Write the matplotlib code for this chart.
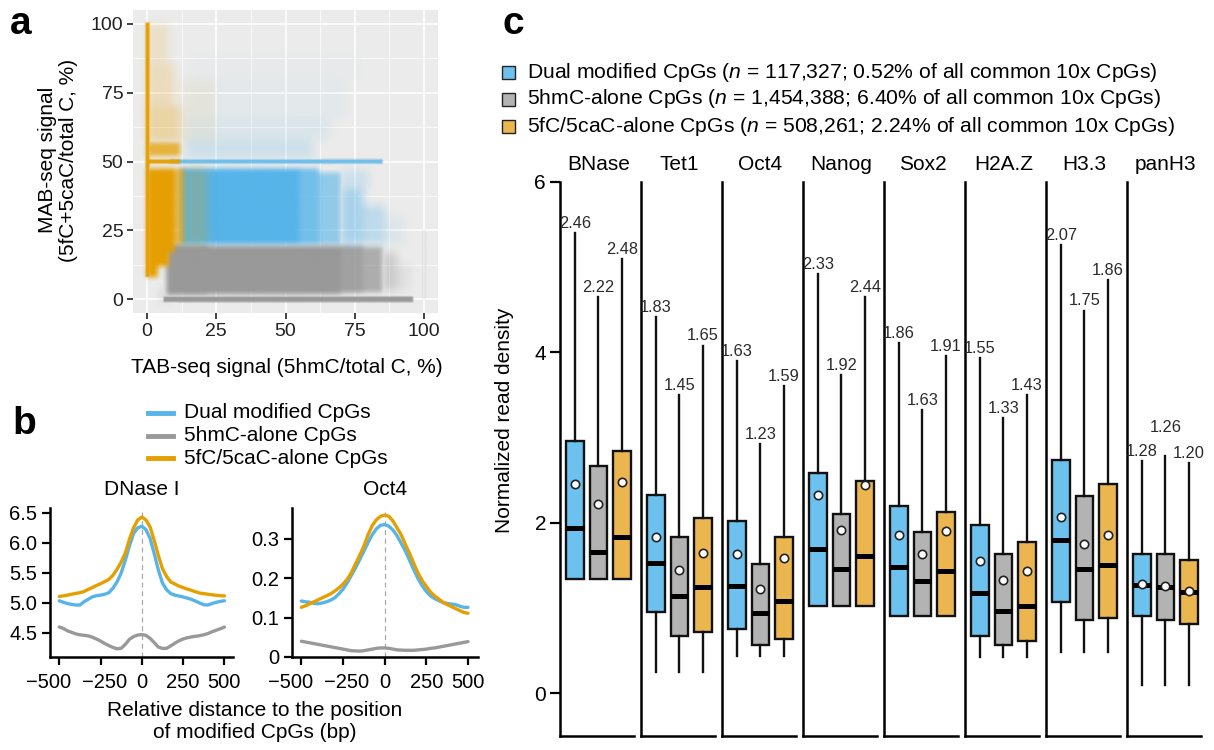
import numpy as np
import matplotlib
matplotlib.use("Agg")
import matplotlib.pyplot as plt
from matplotlib.colors import to_rgb
from matplotlib.lines import Line2D
from matplotlib.patches import Rectangle

plt.rcParams['font.family'] = ['Liberation Sans', 'DejaVu Sans']
plt.rcParams['mathtext.fontset'] = 'custom'
plt.rcParams['mathtext.it'] = 'Liberation Sans:italic'
plt.rcParams['mathtext.rm'] = 'Liberation Sans'

# ---------------------------------------------------------------- data
group_names = ['Dual modified CpGs', '5hmC-alone CpGs', '5fC/5caC-alone CpGs']
group_counts = ['117,327', '1,454,388', '508,261']
group_pct = ['0.52%', '6.40%', '2.24%']

# (a) point clouds: TAB range, MAB range and point density of each patch
hmc_cloud = [
    (5, 8, -1.0, 4, 0.25),
    (7, 22, 1.5, 20, 1.0),
    (22, 70, 1.8, 19.5, 1.0),
    (70, 78, 2.2, 19.5, 0.9),
    (78, 85, 2.5, 19, 0.75),
    (85, 90, 3.0, 17, 0.4),
    (90, 95, 3.5, 13, 0.15),
    (6, 96, -0.9, 0.9, 1.0),
    (99.4, 100.6, 0, 25, 0.2),
]
dual_cloud = [
    (12, 55, 20, 47.5, 1.0),
    (55, 62, 20, 47.5, 0.8),
    (62, 70, 20, 46, 0.6),
    (70, 78, 20, 40, 0.45),
    (78, 86, 20, 34, 0.3),
    (70, 80, 40, 47, 0.2),
    (86, 93, 20, 30, 0.1),
    (8, 85, 49.3, 50.7, 0.85),
    (14, 60, 51, 58, 0.2),
    (14, 66, 58, 66, 0.11),
    (14, 72, 66, 80, 0.05),
    (16, 76, 80, 90, 0.025),
]
fc_cloud = [
    (-0.6, 1.0, 8, 100.5, 1.0),
    (0, 4, 8, 47.5, 1.0),
    (0, 8, 12, 47.5, 1.0),
    (0, 10, 17, 47.5, 1.0),
    (10, 14, 20, 47.5, 0.65),
    (14, 22, 20, 47.5, 0.25),
    (0, 12, 49.3, 50.7, 1.0),
    (0, 12, 52, 57, 0.75),
    (0, 12, 57, 70, 0.3),
    (0, 10, 70, 85, 0.2),
    (0, 8, 85, 100, 0.14),
    (12, 25, 57, 80, 0.06),
]

# (b) average profiles around modified CpGs
dist_bp = [-500, -475, -450, -425, -400, -375, -350, -325, -300, -275, -250,
           -225, -200, -175, -150, -125, -100, -75, -50, -25, 0,
           25, 50, 75, 100, 125, 150, 175, 200, 225, 250,
           275, 300, 325, 350, 375, 400, 425, 450, 475, 500]
dnase_dual = [5.036, 5.01, 4.99, 4.975, 4.965, 4.965, 5.02, 5.06, 5.10, 5.12, 5.13,
              5.145, 5.17, 5.245, 5.35, 5.50, 5.71, 5.95, 6.156, 6.25, 6.276,
              6.22, 6.074, 5.82, 5.55, 5.33, 5.22, 5.155, 5.13, 5.115, 5.10,
              5.08, 5.06, 5.03, 5.00, 4.97, 4.965, 4.99, 5.01, 5.025, 5.036]
dnase_hmc = [4.60, 4.575, 4.535, 4.51, 4.485, 4.47, 4.46, 4.452, 4.43, 4.40, 4.365,
             4.325, 4.29, 4.26, 4.236, 4.245, 4.31, 4.395, 4.44, 4.465, 4.473,
             4.46, 4.41, 4.34, 4.265, 4.243, 4.245, 4.285, 4.33, 4.37, 4.40,
             4.42, 4.434, 4.445, 4.455, 4.47, 4.49, 4.52, 4.545, 4.57, 4.598]
dnase_fc = [5.107, 5.118, 5.13, 5.145, 5.158, 5.17, 5.19, 5.225, 5.255, 5.29, 5.32,
            5.355, 5.39, 5.46, 5.56, 5.68, 5.83, 6.06, 6.25, 6.38, 6.43,
            6.38, 6.265, 6.04, 5.79, 5.57, 5.44, 5.35, 5.315, 5.28, 5.255,
            5.23, 5.21, 5.185, 5.165, 5.155, 5.145, 5.135, 5.128, 5.12, 5.117]
oct4_dual = [0.142, 0.140, 0.139, 0.136, 0.135, 0.137, 0.140, 0.144, 0.150, 0.160, 0.172,
             0.188, 0.207, 0.226, 0.247, 0.268, 0.290, 0.310, 0.325, 0.334, 0.336,
             0.332, 0.322, 0.307, 0.288, 0.268, 0.245, 0.221, 0.199, 0.181, 0.166,
             0.155, 0.148, 0.143, 0.138, 0.136, 0.134, 0.133, 0.129, 0.126, 0.126]
oct4_hmc = [0.040, 0.038, 0.036, 0.034, 0.032, 0.030, 0.028, 0.026, 0.024, 0.022, 0.020,
            0.018, 0.016, 0.0155, 0.015, 0.016, 0.018, 0.020, 0.022, 0.023, 0.023,
            0.022, 0.020, 0.018, 0.0175, 0.017, 0.017, 0.017, 0.018, 0.019, 0.020,
            0.022, 0.023, 0.025, 0.027, 0.029, 0.031, 0.033, 0.035, 0.037, 0.039]
oct4_fc = [0.126, 0.130, 0.135, 0.140, 0.145, 0.150, 0.155, 0.160, 0.167, 0.175, 0.185,
           0.197, 0.214, 0.236, 0.258, 0.281, 0.310, 0.333, 0.348, 0.357, 0.360,
           0.357, 0.345, 0.327, 0.309, 0.285, 0.262, 0.237, 0.213, 0.194, 0.179,
           0.165, 0.155, 0.147, 0.139, 0.133, 0.128, 0.123, 0.118, 0.113, 0.111]
dist_ticks = [-500, -250, 0, 250, 500]

# (c) normalized read density per factor
factors = ['BNase', 'Tet1', 'Oct4', 'Nanog', 'Sox2', 'H2A.Z', 'H3.3', 'panH3']
mean_dual = [2.46, 1.83, 1.63, 2.33, 1.86, 1.55, 2.07, 1.28]
mean_hmc = [2.22, 1.45, 1.23, 1.92, 1.63, 1.33, 1.75, 1.26]
mean_fc = [2.48, 1.65, 1.59, 2.44, 1.91, 1.43, 1.86, 1.20]
q3_dual = [2.96, 2.33, 2.02, 2.59, 2.20, 1.98, 2.74, 1.63]
q3_hmc = [2.67, 1.83, 1.52, 2.10, 1.89, 1.64, 2.32, 1.63]
q3_fc = [2.84, 2.06, 1.83, 2.49, 2.13, 1.77, 2.46, 1.57]
med_dual = [1.94, 1.53, 1.26, 1.69, 1.48, 1.18, 1.80, 1.27]
med_hmc = [1.66, 1.14, 0.94, 1.46, 1.32, 0.97, 1.46, 1.25]
med_fc = [1.83, 1.25, 1.08, 1.61, 1.44, 1.03, 1.51, 1.19]
q1_dual = [1.34, 0.96, 0.75, 1.03, 0.91, 0.67, 1.07, 0.91]
q1_hmc = [1.34, 0.67, 0.57, 1.03, 0.91, 0.57, 0.86, 0.86]
q1_fc = [1.34, 0.72, 0.64, 1.03, 0.91, 0.62, 0.88, 0.81]
whishi_dual = [5.40, 4.41, 3.90, 4.92, 4.11, 3.93, 5.26, 2.72]
whishi_hmc = [4.65, 3.50, 2.92, 3.73, 3.32, 3.23, 4.49, 2.78]
whishi_fc = [5.09, 4.08, 3.60, 4.65, 3.96, 3.50, 4.85, 2.70]
whislo_dual = [1.34, 0.25, 0.44, 1.03, 0.91, 0.43, 0.49, 0.10]
whislo_hmc = [1.34, 0.25, 0.44, 1.03, 0.91, 0.43, 0.49, 0.10]
whislo_fc = [1.34, 0.25, 0.44, 1.03, 0.91, 0.43, 0.49, 0.10]

# ---------------------------------------------------------------- style
line_cols = ['#56B4E9', '#999999', '#E69F00']
box_cols = ['#6DC1EE', '#B3B3B3', '#EBB550']

W, H = 1214, 750
fig = plt.figure(figsize=(W / 100, H / 100), dpi=100)
PT = 72 / 100  # points per pixel


def px_box(left, top, width, height):
    return [left / W, 1 - (top + height) / H, width / W, height / H]


def ftext(x, y, s, **kw):
    return fig.text(x / W, 1 - y / H, s, **kw)


# ---------------------------------------------------------------- panel a
axa = fig.add_axes(px_box(133, 10, 305, 303))
axa.set_facecolor('#EBEBEB')
axa.set_xlim(-5, 105)
axa.set_ylim(-5, 105)
major = [0, 25, 50, 75, 100]
minor = [12.5, 37.5, 62.5, 87.5]
axa.set_xticks(major)
axa.set_yticks(major)
axa.set_xticks(minor, minor=True)
axa.set_yticks(minor, minor=True)
axa.set_axisbelow(True)
axa.grid(which='major', color='white', lw=1.1)
axa.grid(which='minor', color='white', lw=0.5)
axa.tick_params(which='minor', length=0)
axa.tick_params(which='major', length=4, width=1.3, color='#333333',
                labelsize=14, labelcolor='#222222', pad=3)
for sp in axa.spines.values():
    sp.set_visible(False)

res = 0.25
grid_c = np.arange(-5 + res / 2, 105, res)
GX, GY = np.meshgrid(grid_c, grid_c)


def smooth(a, k):
    kern = np.ones(k) / k
    a = np.apply_along_axis(lambda r: np.convolve(r, kern, mode='same'), 0, a)
    a = np.apply_along_axis(lambda r: np.convolve(r, kern, mode='same'), 1, a)
    return a


def cloud_alpha(patches):
    # thin streaks stay crisp, dense blocks get soft edges, sparse halos fade widely
    thin = np.zeros_like(GX)
    dense = np.zeros_like(GX)
    sparse = np.zeros_like(GX)
    for x0, x1, y0, y1, d in patches:
        m = (GX >= x0) & (GX < x1) & (GY >= y0) & (GY < y1)
        if min(x1 - x0, y1 - y0) < 2:
            tgt = thin
        elif d >= 0.5:
            tgt = dense
        else:
            tgt = sparse
        tgt[m] = np.maximum(tgt[m], d)
    a = np.maximum(smooth(thin, 3), smooth(smooth(dense, 9), 7))
    a = np.maximum(a, smooth(smooth(sparse, 17), 11))
    return np.clip(a, 0, 1)


rgb = np.zeros(GX.shape + (3,))
alpha = np.zeros(GX.shape)
for patches, col in [(hmc_cloud, line_cols[1]), (dual_cloud, line_cols[0]),
                     (fc_cloud, line_cols[2])]:
    a = cloud_alpha(patches)
    c = np.array(to_rgb(col))
    out_a = a + alpha * (1 - a)
    safe = np.where(out_a > 0, out_a, 1)
    rgb = (c[None, None, :] * a[..., None] + rgb * (alpha * (1 - a))[..., None]) / safe[..., None]
    alpha = out_a
rgba = np.dstack([rgb, alpha])
axa.imshow(rgba, extent=(-5, 105, -5, 105), origin='lower',
           interpolation='bilinear', aspect='auto', zorder=1)

ftext(287, 368, 'TAB-seq signal (5hmC/total C, %)', ha='center', va='center', fontsize=15)
ftext(58, 160, 'MAB-seq signal\n(5fC+5caC/total C, %)', ha='center', va='center',
      fontsize=15, rotation=90, multialignment='center', linespacing=1.15)
ftext(10, 24, 'a', ha='left', va='center', fontsize=28, fontweight='bold')

# ---------------------------------------------------------------- panel b
ftext(12, 424, 'b', ha='left', va='center', fontsize=28, fontweight='bold')
for k, name in enumerate(group_names):
    y = 413 + 22.5 * k
    fig.add_artist(Line2D([148 / W, 173 / W], [1 - y / H, 1 - y / H],
                          color=line_cols[k], lw=3.5, transform=fig.transFigure))
    ftext(184, y, name, ha='left', va='center', fontsize=15)

# horizontal nudges (px) that keep the negative tick labels apart
tick_label_nudge = [-11, 4, 0, 0, 0]
profile_sets = [
    ('DNase I', [dnase_dual, dnase_hmc, dnase_fc], 50, 183, (-556, 552), (4.1, 6.58),
     [4.5, 5.0, 5.5, 6.0, 6.5], '{:.1f}'),
    ('Oct4', [oct4_dual, oct4_hmc, oct4_fc], 292, 186, (-556, 560), (0, 0.378),
     [0, 0.1, 0.2, 0.3], '{:g}'),
]
for title, series, left, width, xl, yl, yt, fmt in profile_sets:
    ax = fig.add_axes(px_box(left, 508, width, 149))
    ax.axvline(0, color='#AAAAAA', lw=0.9, ls=(0, (4, 3)), zorder=1)
    for k in [1, 0, 2]:
        ax.plot(dist_bp, series[k], color=line_cols[k], lw=2.4, zorder=2 + k,
                solid_capstyle='round', solid_joinstyle='round')
    ax.set_xlim(*xl)
    ax.set_ylim(*yl)
    ax.set_xticks(dist_ticks)
    ax.set_xticklabels([])
    for t, dx in zip(dist_ticks, tick_label_nudge):
        ax.annotate(f'{t}'.replace('-', '\u2212'), xy=(t, 0),
                    xycoords=('data', 'axes fraction'),
                    xytext=(dx * PT, -26 * PT), textcoords='offset points',
                    ha='center', va='center', fontsize=14.5, annotation_clip=False)
    ax.set_yticks(yt)
    ax.set_yticklabels([fmt.format(v) for v in yt])
    for s in ['top', 'right']:
        ax.spines[s].set_visible(False)
    for s in ['left', 'bottom']:
        ax.spines[s].set_linewidth(1.8)
    ax.tick_params(length=6, width=1.6, labelsize=14.5, pad=3)
    ax.set_facecolor('none')
    ax.annotate(title, xy=(0, 1), xycoords=('data', 'axes fraction'),
                xytext=(0, 13), textcoords='offset points',
                ha='center', va='center', fontsize=15, annotation_clip=False)

ftext(255, 722, 'Relative distance to the position\nof modified CpGs (bp)',
      ha='center', va='center', fontsize=15, linespacing=1.2)

# ---------------------------------------------------------------- panel c
ftext(503, 24, 'c', ha='left', va='center', fontsize=28, fontweight='bold')
for k in range(3):
    y = 72 + 27 * k
    fig.add_artist(Rectangle((502 / W, 1 - (y + 6.5) / H), 13 / W, 13 / H,
                             facecolor=box_cols[k], edgecolor='#222222', lw=1.0,
                             transform=fig.transFigure))
    ftext(527, y, f'{group_names[k]} ($\\mathit{{n}}$ = {group_counts[k]}; '
                  f'{group_pct[k]} of all common 10x CpGs)',
          ha='left', va='center', fontsize=15.2)

ftext(505, 420, 'Normalized read density', ha='center', va='center',
      fontsize=15, rotation=90)

stats_by_group = [
    (q1_dual, med_dual, q3_dual, whislo_dual, whishi_dual, mean_dual),
    (q1_hmc, med_hmc, q3_hmc, whislo_hmc, whishi_hmc, mean_hmc),
    (q1_fc, med_fc, q3_fc, whislo_fc, whishi_fc, mean_fc),
]
top_px, bottom_px = 181.8, 735.5
for i, fac in enumerate(factors):
    ax = fig.add_axes(px_box(560 + 81 * i, top_px, 73.5, bottom_px - top_px))
    ax.set_facecolor('none')
    ax.set_xlim(0.362, 3.49)
    ax.set_ylim(-0.494, 6)
    stats = []
    for k in range(3):
        q1, med, q3, lo, hi, mn = stats_by_group[k]
        stats.append(dict(q1=q1[i], med=med[i], q3=q3[i], whislo=lo[i],
                          whishi=hi[i], mean=mn[i], fliers=[]))
    bp = ax.bxp(stats, positions=[1, 2, 3], widths=0.745, patch_artist=True,
                showmeans=True, showcaps=False,
                boxprops=dict(lw=1.7, edgecolor='#111111'),
                whiskerprops=dict(lw=1.7, color='#111111'),
                medianprops=dict(lw=3.6, color='#000000', solid_capstyle='butt'),
                meanprops=dict(marker='o', markerfacecolor='white',
                               markeredgecolor='#222222', markersize=6,
                               markeredgewidth=1.2))
    for patch, col in zip(bp['boxes'], box_cols):
        patch.set_facecolor(col)
    # value labels of the means above each whisker
    his = [stats_by_group[k][4][i] for k in range(3)]
    for k in range(3):
        lift = 7.0
        if k == 1 and abs(his[1] - his[0]) < 0.2 and abs(his[1] - his[2]) < 0.2:
            lift = 21.0
        ax.annotate(f'{stats_by_group[k][5][i]:.2f}', xy=(k + 1, his[k]),
                    xytext=(0, lift), textcoords='offset points',
                    ha='center', va='center', fontsize=11.8, color='#2b2b2b',
                    annotation_clip=False)
    ax.annotate(fac, xy=(2, 6), xytext=(0, 12.5), textcoords='offset points',
                ha='center', va='center', fontsize=15, annotation_clip=False)
    for s in ['top', 'right']:
        ax.spines[s].set_visible(False)
    for s in ['left', 'bottom']:
        ax.spines[s].set_linewidth(1.8)
    ax.set_xticks([])
    if i == 0:
        ax.set_yticks([0, 2, 4, 6])
        ax.tick_params(axis='y', length=7, width=1.6, labelsize=15, pad=3)
    else:
        ax.set_yticks([])

fig.savefig('out.png', dpi=100)
